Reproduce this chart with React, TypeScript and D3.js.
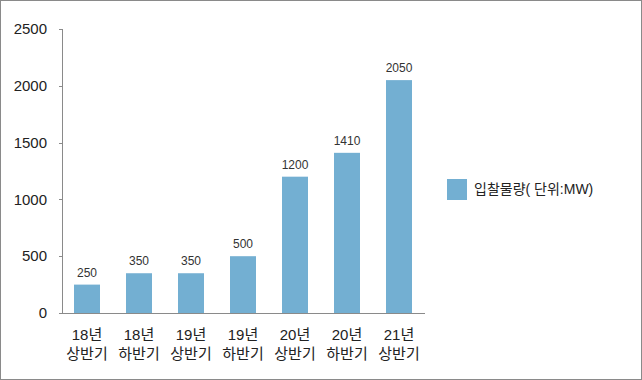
import React from "react";
import * as d3 from "d3";

const categories1 = ["18년", "18년", "19년", "19년", "20년", "20년", "21년"];
const categories2 = ["상반기", "하반기", "상반기", "하반기", "상반기", "하반기", "상반기"];
const values = [250, 350, 350, 500, 1200, 1410, 2050];
const yTicks = [0, 500, 1000, 1500, 2000, 2500];
const seriesName = "입찰물량( 단위:MW)";

const W = 642, H = 380;
const FONT = "'Liberation Sans', 'Noto Sans CJK KR', sans-serif";

export default function App() {
  const x = d3.scaleBand<number>().domain(values.map((_, i) => i)).range([61, 425]).paddingInner(0.5).paddingOuter(0.25);
  const y = d3.scaleLinear().domain([0, 2500]).range([313, 29]);
  const color = "#73AFD2";
  return (
    <svg width={W} height={H} style={{ position: "absolute", left: 0, top: 0, background: "#fff" }} fontFamily={FONT}>
      <rect x={0.5} y={0.5} width={W - 1} height={H - 1} fill="#fff" stroke="#8a8a8a" strokeWidth={1} />
      {values.map((v, i) => (
        <g key={i}>
          <rect x={x(i)!} y={y(v)} width={x.bandwidth()} height={y(0) - y(v)} fill={color} />
          <text x={x(i)! + x.bandwidth() / 2} y={y(v) - 8} textAnchor="middle" fontSize={12} fill="#333">{v}</text>
          <text x={x(i)! + x.bandwidth() / 2} y={340} textAnchor="middle" fontSize={15} fill="#222">{categories1[i]}</text>
          <text x={x(i)! + x.bandwidth() / 2} y={359} textAnchor="middle" fontSize={15} fill="#222">{categories2[i]}</text>
        </g>
      ))}
      <line x1={62.5} x2={62.5} y1={y(2500)} y2={y(0)} stroke="#8a8a8a" />
      <line x1={62} x2={425} y1={y(0) + 0.5} y2={y(0) + 0.5} stroke="#8a8a8a" />
      {yTicks.map((t) => (
        <g key={t}>
          <line x1={59} x2={62} y1={Math.round(y(t)) + 0.5} y2={Math.round(y(t)) + 0.5} stroke="#8a8a8a" />
          <text x={47} y={y(t)} dy="0.35em" textAnchor="end" fontSize={15} fill="#222">{t}</text>
        </g>
      ))}
      <rect x={447} y={179} width={20} height={21} fill={color} />
      <text x={474} y={189.5} dy="0.35em" fontSize={14} fill="#222">{seriesName}</text>
    </svg>
  );
}
